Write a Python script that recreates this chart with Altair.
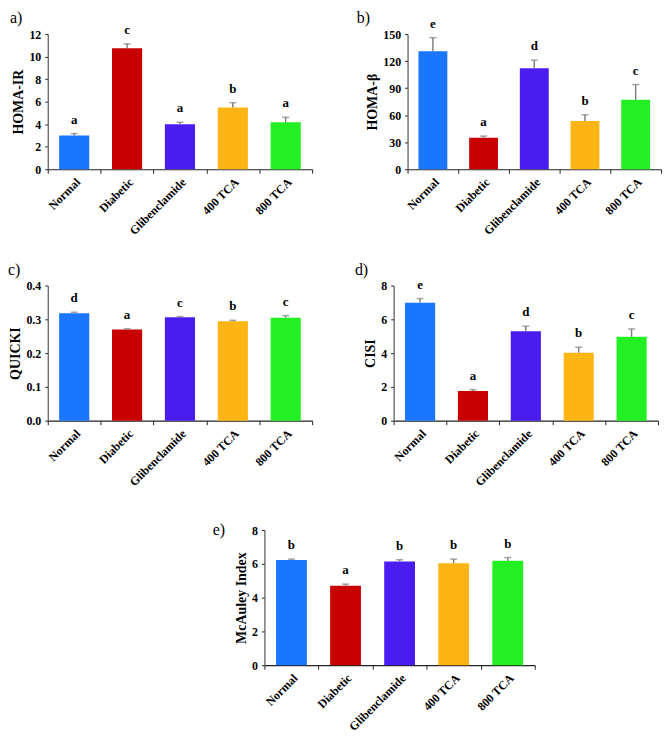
import altair as alt
import pandas as pd

groups = ["Normal", "Diabetic", "Glibenclamide", "400 TCA", "800 TCA"]
colors = ["#1A75FF", "#C80000", "#4A1CF0", "#FDB515", "#22F022"]

homa_ir = [3.0, 10.75, 4.0, 5.48, 4.18]
homa_ir_err = [0.17, 0.38, 0.17, 0.43, 0.43]
homa_ir_letters = ["a", "c", "a", "b", "a"]

homa_b = [131, 35, 112, 53.5, 77]
homa_b_err = [15, 1.8, 9, 7, 17]
homa_b_letters = ["e", "a", "d", "b", "c"]

quicki = [0.318, 0.270, 0.306, 0.294, 0.305]
quicki_err = [0.003, 0.002, 0.002, 0.003, 0.006]
quicki_letters = ["d", "a", "c", "b", "c"]

cisi = [6.98, 1.76, 5.30, 4.02, 4.97]
cisi_err = [0.25, 0.08, 0.29, 0.33, 0.46]
cisi_letters = ["e", "a", "d", "b", "c"]

mcauley = [6.22, 4.70, 6.14, 6.03, 6.18]
mcauley_err = [0.06, 0.10, 0.10, 0.25, 0.19]
mcauley_letters = ["b", "a", "b", "b", "b"]

FONT = "Liberation Serif"
H = 136


def panel(vals, errs, letters, title, ymax, ticks, fmt, w, label, lx, ly):
    df = pd.DataFrame({"group": groups, "value": vals, "err": errs, "letter": letters})
    base = alt.Chart(df).transform_calculate(upper="datum.value + datum.err")
    xscale = alt.Scale(domain=groups, paddingInner=0, paddingOuter=0)
    yscale = alt.Scale(domain=[0, ymax], nice=False, zero=True)
    xaxis = alt.Axis(
        title=None, labelAngle=-45, labelAlign="right", labelBaseline="top",
        tickBand="extent", tickSize=4, labelPadding=3,
        labelFont=FONT, labelFontSize=12, labelFontWeight="bold", labelColor="black",
        domainColor="#222222", tickColor="#222222", domainWidth=1.2, grid=False,
    )
    yaxis = alt.Axis(
        title=title, values=ticks, format=fmt, grid=False, tickSize=3, labelPadding=4,
        labelFont=FONT, labelFontSize=12, labelFontWeight="bold", labelColor="black",
        titleFont=FONT, titleFontSize=14, titleFontWeight="bold", titleColor="black",
        titlePadding=3, domainColor="#555555", tickColor="#222222", domainWidth=1.2,
    )
    X = alt.X("group:N", sort=groups, scale=xscale, axis=xaxis, title=None)
    bars = base.mark_bar(width=alt.RelativeBandSize(0.57)).encode(
        x=X, y=alt.Y("value:Q", scale=yscale, axis=yaxis, title=title),
        color=alt.Color("group:N", scale=alt.Scale(domain=groups, range=colors), legend=None),
    )
    rule = base.mark_rule(color="#808080", strokeWidth=1.5).encode(
        x=X, y=alt.Y("value:Q", scale=yscale, axis=yaxis, title=title), y2="upper:Q"
    )
    cap = base.mark_tick(color="#808080", size=7, thickness=1.5, orient="horizontal").encode(
        x=X, y=alt.Y("upper:Q", scale=yscale, axis=yaxis, title=title)
    )
    txt = base.mark_text(
        font=FONT, fontSize=13, fontWeight="bold", baseline="bottom", dy=-7, color="black"
    ).encode(x=X, y=alt.Y("upper:Q", scale=yscale, axis=yaxis, title=title), text="letter:N")
    lab = alt.Chart(pd.DataFrame({"t": [label]})).mark_text(
        font=FONT, fontSize=16, align="left", baseline="top", color="black"
    ).encode(x=alt.value(lx), y=alt.value(ly), text="t:N")
    return alt.layer(bars, rule, cap, txt, lab).properties(width=w, height=H)


pa = panel(homa_ir, homa_ir_err, homa_ir_letters, "HOMA-IR", 12, [0, 2, 4, 6, 8, 10, 12], "d", 266, "a)", -38, -24)
pb = panel(homa_b, homa_b_err, homa_b_letters, "HOMA-β", 150, [0, 30, 60, 90, 120, 150], "d", 255, "b)", -51, -24)
pc = panel(quicki, quicki_err, quicki_letters, "QUICKI", 0.4, [0.0, 0.1, 0.2, 0.3, 0.4], ".1f", 266, "c)", -40, -24)
pd_ = panel(cisi, cisi_err, cisi_letters, "CISI", 8, [0, 2, 4, 6, 8], "d", 266, "d)", -39, -24)
pe = panel(mcauley, mcauley_err, mcauley_letters, "McAuley Index", 8, [0, 2, 4, 6, 8], "d", 272, "e)", -52, -8)

spacer = alt.Chart(pd.DataFrame({"s": [0]})).mark_point(opacity=0).properties(width=166, height=H)

row1 = alt.hconcat(pa, pb, spacing=44)
row2 = alt.hconcat(pc, pd_, spacing=42)
row3 = alt.hconcat(spacer, pe, spacing=0)

top = alt.vconcat(row1, row2, spacing=25)
chart = alt.vconcat(top, row3, spacing=34).properties(padding=0).configure_view(stroke=None)

chart.save("out.html", embed_options={"renderer": "svg", "actions": False})
